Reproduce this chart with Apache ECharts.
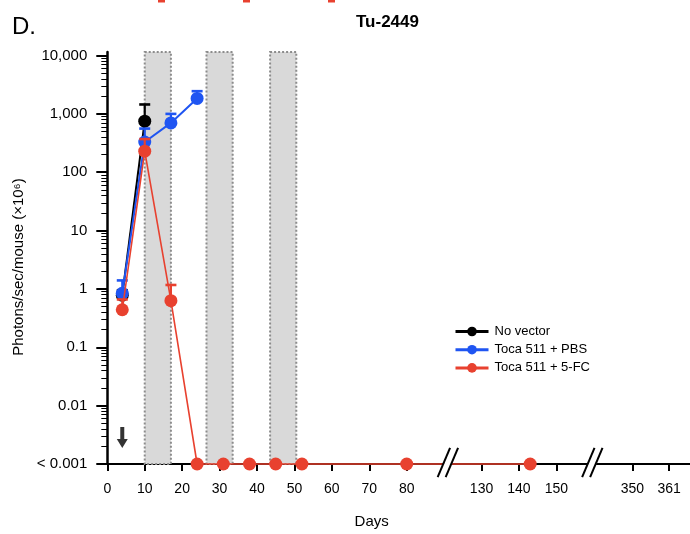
<!DOCTYPE html>
<html><head><meta charset="utf-8">
<script src="https://cdn.jsdelivr.net/npm/echarts@6/dist/echarts.min.js"></script>
<style>html,body{margin:0;padding:0;background:#fff}#c{width:690px;height:534px}</style>
</head><body><div id="c"></div>
<script>
// ---- data ----
const noVectorDays  = [4, 10];
const noVectorVals  = [0.78, 750];
const noVectorUpper = [0.95, 1450];

const pbsDays  = [4, 10, 17, 24];
const pbsVals  = [0.84, 330, 700, 1840];
const pbsUpper = [1.4, 560, 1000, 2450];

const fcDays  = [4, 10, 17, 24, 31, 38, 45, 52, 80, 143];
const fcVals  = [0.44, 230, 0.63, 0.001, 0.001, 0.001, 0.001, 0.001, 0.001, 0.001]; // 0.001 = below detection
const fcUpper = [0.66, 370, 1.17, null, null, null, null, null, null, null];

const treatmentWindows = [[10, 17], [26.5, 33.5], [43.5, 50.5]];
const vectorInjectionDay = [4];

const xTickDays   = [0, 10, 20, 30, 40, 50, 60, 70, 80, 130, 140, 150, 350, 361];
const yTickValues = [0.001, 0.01, 0.1, 1, 10, 100, 1000, 10000];
const yTickLabels = ['< 0.001', '0.01', '0.1', '1', '10', '100', '1,000', '10,000'];

// ---- broken x axis: piecewise mapping of days to axis units ----
function toDisp(d) {
  if (d <= 90) return d;
  if (d <= 200) return d - 30;
  return 140.3 + (d - 350) * 0.892;
}
const axisBreaks = [91.0, 129.6]; // axis units where the // marks sit

const FONT = 'Liberation Sans, Arial, sans-serif';
const C_BLACK = '#000000', C_BLUE = '#1f55f2', C_RED = '#e8412f';

const minorVals = [];
for (let k = -3; k <= 3; k++) for (let m = 2; m <= 9; m++) minorVals.push(+(m * Math.pow(10, k)).toPrecision(3));

const xLabelMap = {};
xTickDays.forEach(d => { xLabelMap[toDisp(d).toFixed(2)] = String(d); });
const yLabelMap = {};
yTickValues.forEach((v, i) => { yLabelMap[Math.round(Math.log10(v))] = yTickLabels[i]; });

function pts(days, vals) { return days.map((d, i) => [toDisp(d), vals[i]]); }
function errPts(days, vals, up) {
  const out = [];
  days.forEach((d, i) => { if (up[i] != null) out.push([toDisp(d), vals[i], up[i]]); });
  return out;
}
function errRender(color) {
  return function (params, api) {
    const x = api.value(0), y = api.value(1), u = api.value(2);
    const p0 = api.coord([x, y]), p1 = api.coord([x, u]);
    return {
      type: 'group',
      children: [
        { type: 'line', shape: { x1: p0[0], y1: p0[1], x2: p1[0], y2: p1[1] }, style: { stroke: color, lineWidth: 2.2 } },
        { type: 'line', shape: { x1: p1[0] - 5.5, y1: p1[1], x2: p1[0] + 5.5, y2: p1[1] }, style: { stroke: color, lineWidth: 2.6 } }
      ]
    };
  };
}

const chart = echarts.init(document.getElementById('c'), null, { renderer: 'canvas' });

const option = {
  animation: false,
  backgroundColor: '#fff',
  textStyle: { fontFamily: FONT },
  title: {
    text: 'Tu-2449', left: 351, top: 9,
    textStyle: { fontFamily: FONT, fontSize: 17, fontWeight: 'bold', color: '#000' }
  },
  graphic: [
    { type: 'text', left: 12, top: 15, style: { text: 'D.', font: '24px ' + FONT, fill: '#000' } },
    { type: 'rect', shape: { x: 158, y: 0, width: 7, height: 2.5 }, style: { fill: '#e8412f' } },
    { type: 'rect', shape: { x: 243, y: 0, width: 7, height: 2.5 }, style: { fill: '#e8412f' } },
    { type: 'rect', shape: { x: 328, y: 0, width: 7, height: 2.5 }, style: { fill: '#e8412f' } }
  ],
  legend: {
    orient: 'vertical', left: 449, top: 320,
    itemWidth: 33, itemHeight: 12, itemGap: 5.2,
    data: ['No vector', 'Toca 511 + PBS', 'Toca 511 + 5-FC'],
    textStyle: { fontFamily: FONT, fontSize: 13, color: '#000', padding: [0, 0, 0, 1] },
    lineStyle: { width: 3 }
  },
  grid: { left: 107.3, right: 0, top: 52, bottom: 69 },
  xAxis: {
    type: 'value', min: 0, max: 155.7,
    name: 'Days', nameLocation: 'middle', nameGap: 50,
    nameTextStyle: { fontFamily: FONT, fontSize: 15, color: '#000', padding: [0, 54, 0, 0] },
    axisLine: { show: true, onZero: false, lineStyle: { color: '#000', width: 2 } },
    axisTick: { show: true, customValues: xTickDays.map(toDisp), length: 7, lineStyle: { color: '#000', width: 2 } },
    axisLabel: {
      customValues: xTickDays.map(toDisp), margin: 18,
      fontFamily: FONT, fontSize: 14, color: '#000',
      formatter: v => xLabelMap[(+v).toFixed(2)] || ''
    },
    splitLine: { show: false }
  },
  yAxis: [{
    type: 'log', logBase: 10, min: 0.001, max: 11500, position: 'left',
    name: 'Photons/sec/mouse (×10⁶)', nameLocation: 'middle', nameGap: 80,
    nameTextStyle: { fontFamily: FONT, fontSize: 15, color: '#000', padding: [0, 18, 0, 0] },
    axisLine: { show: true, onZero: false, lineStyle: { color: '#000', width: 2.5 } },
    axisTick: { show: true, customValues: yTickValues, length: 11, lineStyle: { color: '#000', width: 2 } },
    axisLabel: {
      customValues: yTickValues, margin: 20,
      fontFamily: FONT, fontSize: 15, color: '#000',
      formatter: v => yLabelMap[Math.round(Math.log10(v))] || ''
    },
    splitLine: { show: false }, minorTick: { show: false }
  }, {
    type: 'log', logBase: 10, min: 0.001, max: 11500, position: 'left',
    axisLine: { show: false },
    axisTick: { show: true, customValues: minorVals, length: 6, lineStyle: { color: '#000', width: 1 } },
    axisLabel: { show: false },
    splitLine: { show: false }
  }],
  series: [
    {
      name: 'No vector', type: 'line', data: pts(noVectorDays, noVectorVals),
      symbol: 'circle', symbolSize: 13, showAllSymbol: true,
      lineStyle: { color: C_BLACK, width: 2 }, itemStyle: { color: C_BLACK },
      z: 3,
      markArea: {
        silent: true,
        itemStyle: { color: '#d9d9d9', borderColor: '#8c8c8c', borderWidth: 2, borderType: [2, 2] },
        data: treatmentWindows.map(w => [{ xAxis: toDisp(w[0]), yAxis: 11500 }, { xAxis: toDisp(w[1]), yAxis: 0.001 }])
      }
    },
    {
      name: 'Toca 511 + PBS', type: 'line', data: pts(pbsDays, pbsVals),
      symbol: 'circle', symbolSize: 13, showAllSymbol: true,
      lineStyle: { color: C_BLUE, width: 2 }, itemStyle: { color: C_BLUE }, z: 4
    },
    {
      name: 'Toca 511 + 5-FC', type: 'line', data: pts(fcDays, fcVals),
      symbol: 'circle', symbolSize: 13, showAllSymbol: true, clip: false,
      lineStyle: { color: C_RED, width: 1.6 }, itemStyle: { color: C_RED }, z: 5
    },
    { type: 'custom', name: 'errNV', data: errPts(noVectorDays, noVectorVals, noVectorUpper), renderItem: errRender(C_BLACK), encode: { x: 0, y: [1, 2] }, z: 3 },
    { type: 'custom', name: 'errPBS', data: errPts(pbsDays, pbsVals, pbsUpper), renderItem: errRender(C_BLUE), encode: { x: 0, y: [1, 2] }, z: 4 },
    { type: 'custom', name: 'errFC', data: errPts(fcDays, fcVals, fcUpper), renderItem: errRender(C_RED), encode: { x: 0, y: [1, 2] }, z: 5 },
    {
      type: 'scatter', name: 'arrow', data: vectorInjectionDay.map(d => [toDisp(d), 0.00284]),
      symbol: 'path://M3.5,0 L7.5,0 L7.5,12 L11,12 L5.5,21 L0,12 L3.5,12 Z', symbolSize: [11, 21],
      symbolKeepAspect: false,
      itemStyle: { color: '#000' }, silent: true, z: 6
    },
    {
      type: 'custom', name: 'breaks', data: axisBreaks.map(b => [b, 0.001]), clip: false, silent: true, z: 10,
      encode: { x: 0, y: 1 },
      renderItem: function (params, api) {
        const p = api.coord([api.value(0), api.value(1)]);
        const dx = 6.2, dy = 14.7, sep = 4;
        return {
          type: 'group',
          children: [
            { type: 'polygon', shape: { points: [[p[0] - sep - dx * 0.25, p[1] + 3], [p[0] - sep + dx * 0.25, p[1] - 3], [p[0] + sep + dx * 0.25, p[1] - 3], [p[0] + sep - dx * 0.25, p[1] + 3]] }, style: { fill: '#fff' } },
            { type: 'line', shape: { x1: p[0] - sep - dx, y1: p[1] + dy - 1.5, x2: p[0] - sep + dx, y2: p[1] - dy - 1.5 }, style: { stroke: '#000', lineWidth: 2 } },
            { type: 'line', shape: { x1: p[0] + sep - dx, y1: p[1] + dy - 1.5, x2: p[0] + sep + dx, y2: p[1] - dy - 1.5 }, style: { stroke: '#000', lineWidth: 2 } }
          ]
        };
      }
    }
  ]
};
chart.setOption(option);
</script>
</body></html>
